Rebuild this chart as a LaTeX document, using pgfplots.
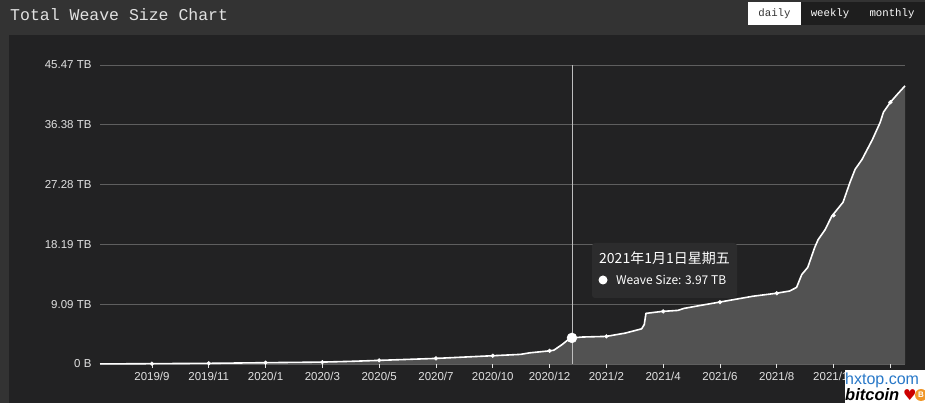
\documentclass[border=0pt]{standalone}
\usepackage{pgfplots}
\pgfplotsset{compat=1.18}
\usepackage{fontspec}
\setmainfont{Liberation Sans}
\newfontfamily\cjk{Noto Sans CJK SC}
\newfontfamily\mono{Liberation Mono}
\newfontfamily\dejavu{DejaVu Sans}
\definecolor{outerbg}{RGB}{51,51,51}
\definecolor{panelbg}{RGB}{34,34,35}
\definecolor{gridc}{RGB}{95,95,95}
\definecolor{areac}{RGB}{82,82,82}
\definecolor{labc}{RGB}{225,225,225}
\definecolor{tipbg}{RGB}{44,44,45}
\definecolor{btndark}{RGB}{30,30,30}
\definecolor{wmblue}{RGB}{40,120,200}
\definecolor{wmorange}{RGB}{240,150,40}
\begin{document}
\begin{tikzpicture}
\fill[outerbg] (0pt,0pt) rectangle (925pt,403pt);
\fill[panelbg] (9pt,0pt) rectangle (925pt,368pt);
% title
\node[anchor=west, text=labc, font=\mono\fontsize{16.5}{18}\selectfont, inner sep=0pt] at (10pt,388pt) {Total Weave Size Chart};
% buttons
\fill[white] (748pt,378pt) rectangle (801pt,401pt);
\fill[btndark] (801pt,378pt) rectangle (925pt,401pt);
\node[text=outerbg, font=\mono\fontsize{10.7}{12}\selectfont, inner sep=0pt] at (774.5pt,389.5pt) {daily};
\node[text=white, font=\mono\fontsize{10.7}{12}\selectfont, inner sep=0pt] at (830pt,389.5pt) {weekly};
\node[text=white, font=\mono\fontsize{10.7}{12}\selectfont, inner sep=0pt] at (892pt,389.5pt) {monthly};
\begin{axis}[
  at={(100pt,39pt)}, anchor=south west,
  scale only axis, width=805pt, height=299pt,
  xmin=-60.4, xmax=875, ymin=0, ymax=45.47,
  axis line style={draw=none},
  ytick={0,9.094,18.188,27.282,36.376,45.47},
  yticklabels={0 B,9.09 TB,18.19 TB,27.28 TB,36.38 TB,45.47 TB},
  xtick={0,66,132,198,264,330,396,462,528,594,660,726,792,858},
  xticklabels={2019/9,2019/11,2020/1,2020/3,2020/5,2020/7,2020/10,2020/12,2021/2,2021/4,2021/6,2021/8,2021/11,{}},
  xtick pos=bottom,
  ymajorgrids, grid style={gridc, line width=0.8pt},
  ytick style={draw=none},
  xtick style={draw=labc, line width=0.8pt},
  tick align=outside, major tick length=4pt,
  ticklabel style={text=labc, font=\fontsize{11.5}{13}\selectfont},
  yticklabel style={xshift=-1pt},
  xticklabel style={yshift=-1pt},
  /pgf/number format/assume math mode=true,
  clip=false,
]
\addplot[draw=none, fill=areac] coordinates {
(-60.4,0.02) (-30,0.03) (0,0.05) (66,0.1) (132,0.2) (198,0.29) (230,0.4) (264,0.55) (330,0.85) (396,1.26) (428,1.46) (439,1.7) (462,2.0) (467,2.1) (477,3.0) (484,3.75) (488,3.97) (500,4.1) (528,4.2) (550,4.7) (569,5.35) (572,6.0) (574,7.7) (593,8.0) (611,8.15) (618,8.45) (637,8.9) (659,9.4) (698,10.3) (725,10.75) (741,11.1) (749,11.65) (755,13.6) (762,14.7) (770,17.7) (774,18.9) (782,20.4) (790,22.5) (803,24.6) (811,27.6) (817,29.6) (825,31.1) (837,34.1) (846,36.7) (850,38.3) (858,39.8) (866,41.0) (875,42.3)
} \closedcycle;
\addplot[white, line width=1.6pt, line join=round] coordinates {
(-60.4,0.02) (-30,0.03) (0,0.05) (66,0.1) (132,0.2) (198,0.29) (230,0.4) (264,0.55) (330,0.85) (396,1.26) (428,1.46) (439,1.7) (462,2.0) (467,2.1) (477,3.0) (484,3.75) (488,3.97) (500,4.1) (528,4.2) (550,4.7) (569,5.35) (572,6.0) (574,7.7) (593,8.0) (611,8.15) (618,8.45) (637,8.9) (659,9.4) (698,10.3) (725,10.75) (741,11.1) (749,11.65) (755,13.6) (762,14.7) (770,17.7) (774,18.9) (782,20.4) (790,22.5) (803,24.6) (811,27.6) (817,29.6) (825,31.1) (837,34.1) (846,36.7) (850,38.3) (858,39.8) (866,41.0) (875,42.3)
};
\addplot[only marks, mark=*, mark size=1.9pt, white] coordinates {
(0,0.05) (66,0.1) (132,0.2) (198,0.29) (264,0.55) (330,0.85) (396,1.26) (462,2.0) (528,4.2) (594,8.0) (660,9.4) (726,10.75) (792,22.6) (858,39.8)
};
% cursor
\addplot[color={rgb,255:red,190;green,190;blue,190}, line width=0.7pt] coordinates {(488,0) (488,45.47)};
\addplot[only marks, mark=*, mark size=5pt, white] coordinates {(488,3.97)};
\end{axis}
% tooltip
\fill[tipbg, rounded corners=3pt] (592pt,105pt) rectangle (737pt,160pt);
\node[text=white, font=\cjk\fontsize{14}{16}\selectfont, inner sep=0pt] at (664.5pt,145pt) {2021年1月1日星期五};
\fill[white] (603pt,123pt) circle (4.5pt);
\node[anchor=west, text=white, font=\cjk\fontsize{12}{14}\selectfont, inner sep=0pt] at (616pt,123pt) {Weave Size: 3.97 TB};
% watermark
\fill[white] (845pt,0pt) rectangle (925pt,33pt);
\node[anchor=west, text=wmblue, font=\fontsize{16}{17}\selectfont, inner sep=0pt] at (845pt,23pt) {hxtop.com};
\node[anchor=west, text=black, font=\bfseries\itshape\fontsize{16.5}{17}\selectfont, inner sep=0pt] at (845pt,8pt) {bitcoin};
\node[anchor=west, text=red!80!black, font=\dejavu\fontsize{15}{16}\selectfont, inner sep=0pt] at (903pt,8pt) {♥};
\fill[wmorange] (921pt,8pt) circle (6pt);
\node[text=white, font=\bfseries\fontsize{8}{9}\selectfont, inner sep=0pt] at (921pt,8pt) {B};
\pgfresetboundingbox
\useasboundingbox (0pt,0pt) rectangle (925pt,403pt);
\end{tikzpicture}
\end{document}
